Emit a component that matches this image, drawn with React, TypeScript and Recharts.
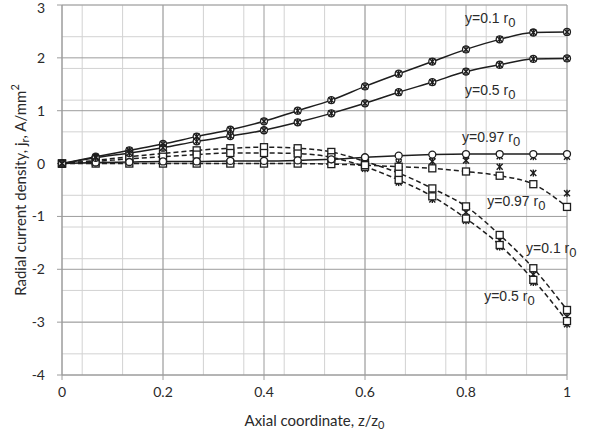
import React from "react";
import {
  CartesianGrid,
  ComposedChart,
  Label,
  Line,
  ReferenceDot,
  XAxis,
  YAxis,
} from "recharts";

// axial positions of the computed points (z/z0)
const zPoints = [0, 0.0667, 0.1333, 0.2, 0.2667, 0.3333, 0.4, 0.4667, 0.5333, 0.6, 0.6667, 0.7333, 0.8, 0.8667, 0.9333, 1];

// solid curves
const solid01 = [0, 0.13, 0.25, 0.37, 0.51, 0.64, 0.8, 1.0, 1.2, 1.46, 1.7, 1.93, 2.16, 2.35, 2.48, 2.49];
const solid05 = [0, 0.11, 0.2, 0.3, 0.42, 0.52, 0.63, 0.78, 0.95, 1.14, 1.35, 1.54, 1.74, 1.87, 1.98, 1.99];
const solid097 = [0, 0.02, 0.03, 0.04, 0.04, 0.05, 0.05, 0.06, 0.08, 0.12, 0.15, 0.17, 0.18, 0.18, 0.18, 0.18];
const solid097x = [0, 0.02, 0.03, 0.04, 0.04, 0.05, 0.05, 0.06, 0.07, 0.1, 0.12, 0.14, 0.15, 0.14, 0.13, 0.13];

// dashed curves
const dashed01 = [0, 0.06, 0.13, 0.19, 0.25, 0.29, 0.31, 0.29, 0.22, 0.04, -0.18, -0.47, -0.81, -1.35, -1.98, -2.77];
const dashed05 = [0, 0.04, 0.09, 0.13, 0.17, 0.2, 0.2, 0.19, 0.12, -0.06, -0.31, -0.62, -1.04, -1.54, -2.2, -2.98];
const dashed097 = [0, 0, 0, 0, 0, 0, 0, 0, -0.01, -0.03, -0.06, -0.09, -0.15, -0.23, -0.39, -0.82];
const dashed01x = [0, 0.06, 0.13, 0.19, 0.25, 0.29, 0.31, 0.28, 0.2, 0.0, -0.24, -0.55, -0.92, -1.45, -2.1, -2.9];
const dashed05x = [0, 0.04, 0.09, 0.13, 0.17, 0.2, 0.2, 0.18, 0.1, -0.1, -0.36, -0.68, -1.08, -1.58, -2.25, -3.04];
const dashed097x = [0, 0, 0, 0, 0, 0, 0, 0, 0, 0, 0.0, 0.04, 0.06, -0.06, -0.18, -0.56];

const xTicks = [0, 0.2, 0.4, 0.6, 0.8, 1];
const yTicks = [-4, -3, -2, -1, 0, 1, 2, 3];

const steps = (from: number, to: number, step: number) => {
  const out: number[] = [];
  for (let v = from; v <= to + 1e-9; v += step) out.push(Math.round(v * 100) / 100);
  return out;
};
const xMinor = steps(0, 1, 0.04);
const yMinor = steps(-4, 3, 0.2);

const toRows = (values: number[]) => zPoints.map((z, i) => ({ z, v: values[i] }));

const INK = "#1e1e1e";
const FONT = "Lato, 'Open Sans', sans-serif";

const Circle = (p: any) => (
  <circle key={`c${p.index}`} cx={p.cx} cy={p.cy} r={3.5} fill="#fff" stroke={INK} strokeWidth={1.3} />
);
const Square = (p: any) => (
  <rect key={`s${p.index}`} x={p.cx - 3.5} y={p.cy - 3.5} width={7} height={7} fill="#fff" stroke={INK} strokeWidth={1.3} />
);
const Star = (p: any) => (
  <g key={`x${p.index}`} stroke={INK} strokeWidth={1.4}>
    <line x1={p.cx - 3} y1={p.cy - 3} x2={p.cx + 3} y2={p.cy + 3} />
    <line x1={p.cx - 3} y1={p.cy + 3} x2={p.cx + 3} y2={p.cy - 3} />
    <line x1={p.cx} y1={p.cy - 3.5} x2={p.cx} y2={p.cy + 3.5} />
  </g>
);

const curves = [
  { values: solid01, dash: undefined },
  { values: solid05, dash: undefined },
  { values: solid097, dash: undefined },
  { values: dashed01, dash: "5 3" },
  { values: dashed05, dash: "5 3" },
  { values: dashed097, dash: "5 3" },
];

const markers = [
  { values: dashed01x, shape: Star },
  { values: dashed05x, shape: Star },
  { values: dashed097x, shape: Star },
  { values: dashed01, shape: Square },
  { values: dashed05, shape: Square },
  { values: dashed097, shape: Square },
  { values: solid097x, shape: Star },
  { values: solid097, shape: Circle },
  { values: solid01, shape: Circle },
  { values: solid05, shape: Circle },
  { values: solid01, shape: Star },
  { values: solid05, shape: Star },
];

const notes = [
  { z: 0.8, y: 2.75 },
  { z: 0.8, y: 1.39 },
  { z: 0.794, y: 0.5 },
  { z: 0.844, y: -0.7 },
  { z: 0.921, y: -1.59 },
  { z: 0.838, y: -2.5 },
];
const noteText = ["y=0.1 r", "y=0.5 r", "y=0.97 r", "y=0.97 r", "y=0.1 r", "y=0.5 r"];

const NoteLabel = (text: string) => (props: any) => {
  const { viewBox } = props;
  return (
    <text
      x={viewBox.x}
      y={viewBox.y + viewBox.height / 2}
      dominantBaseline="central"
      fontFamily="'Liberation Sans', Arial, sans-serif"
      fontSize={14}
      fill="#2a2a2a"
    >
      {text}
      <tspan dy={4} fontSize={13}>0</tspan>
    </text>
  );
};

const YTitle = (props: any) => {
  const { viewBox } = props;
  const x = viewBox.x + 20;
  const y = viewBox.y + viewBox.height / 2;
  return (
    <text x={x} y={y} transform={`rotate(-90 ${x} ${y})`} textAnchor="middle" dominantBaseline="central" fontFamily={FONT} fontSize={15} fill="#2a2a2a">
      Radial current density, j
      <tspan dy={4} fontSize={11}>r</tspan>
      <tspan dy={-4}>, A/mm</tspan>
      <tspan dy={-6} fontSize={11}>2</tspan>
    </text>
  );
};

const XTitle = (props: any) => {
  const { viewBox } = props;
  return (
    <text x={viewBox.x + viewBox.width / 2} y={viewBox.y + 45} textAnchor="middle" dominantBaseline="central" fontFamily={FONT} fontSize={15} fill="#2a2a2a">
      Axial coordinate, z/z
      <tspan dy={4} fontSize={11}>0</tspan>
    </text>
  );
};

export default function App() {
  return (
    <div style={{ position: "absolute", left: 0, top: 0, background: "#fff" }}>
      <ComposedChart width={598} height={437} margin={{ top: 5, right: 31, bottom: 0, left: 0 }}>
        <CartesianGrid stroke="#d2d2d2" horizontalValues={yMinor} verticalValues={xMinor} />
        <CartesianGrid stroke="#9c9c9c" horizontalValues={yTicks} verticalValues={xTicks} />
        <XAxis
          dataKey="z"
          type="number"
          domain={[0, 1]}
          ticks={xTicks}
          tickFormatter={(v) => String(v)}
          stroke="#9c9c9c"
          tickSize={5}
          tickMargin={7}
          tick={{ fontSize: 14, fill: "#2a2a2a", fontFamily: FONT }}
          height={62}
          allowDuplicatedCategory={false}
        >
          <Label content={XTitle} />
        </XAxis>
        <YAxis
          type="number"
          domain={[-4, 3]}
          ticks={yTicks}
          stroke="#9c9c9c"
          tickSize={5}
          tickMargin={12}
          tick={{ fontSize: 14, fill: "#2a2a2a", fontFamily: FONT }}
          width={62}
        >
          <Label content={YTitle} />
        </YAxis>
        {curves.map((c, i) => (
          <Line
            key={`line${i}`}
            data={toRows(c.values)}
            dataKey="v"
            type="monotone"
            stroke={INK}
            strokeWidth={1.5}
            strokeDasharray={c.dash}
            dot={false}
            activeDot={false}
            isAnimationActive={false}
          />
        ))}
        {markers.map((m, i) => (
          <Line
            key={`mk${i}`}
            data={toRows(m.values)}
            dataKey="v"
            stroke="none"
            strokeWidth={0}
            dot={m.shape}
            activeDot={false}
            isAnimationActive={false}
          />
        ))}
        {notes.map((n, i) => (
          <ReferenceDot key={`n${i}`} x={n.z} y={n.y} r={1} fill="none" stroke="none" label={{ content: NoteLabel(noteText[i]) } as any} />
        ))}
      </ComposedChart>
    </div>
  );
}
